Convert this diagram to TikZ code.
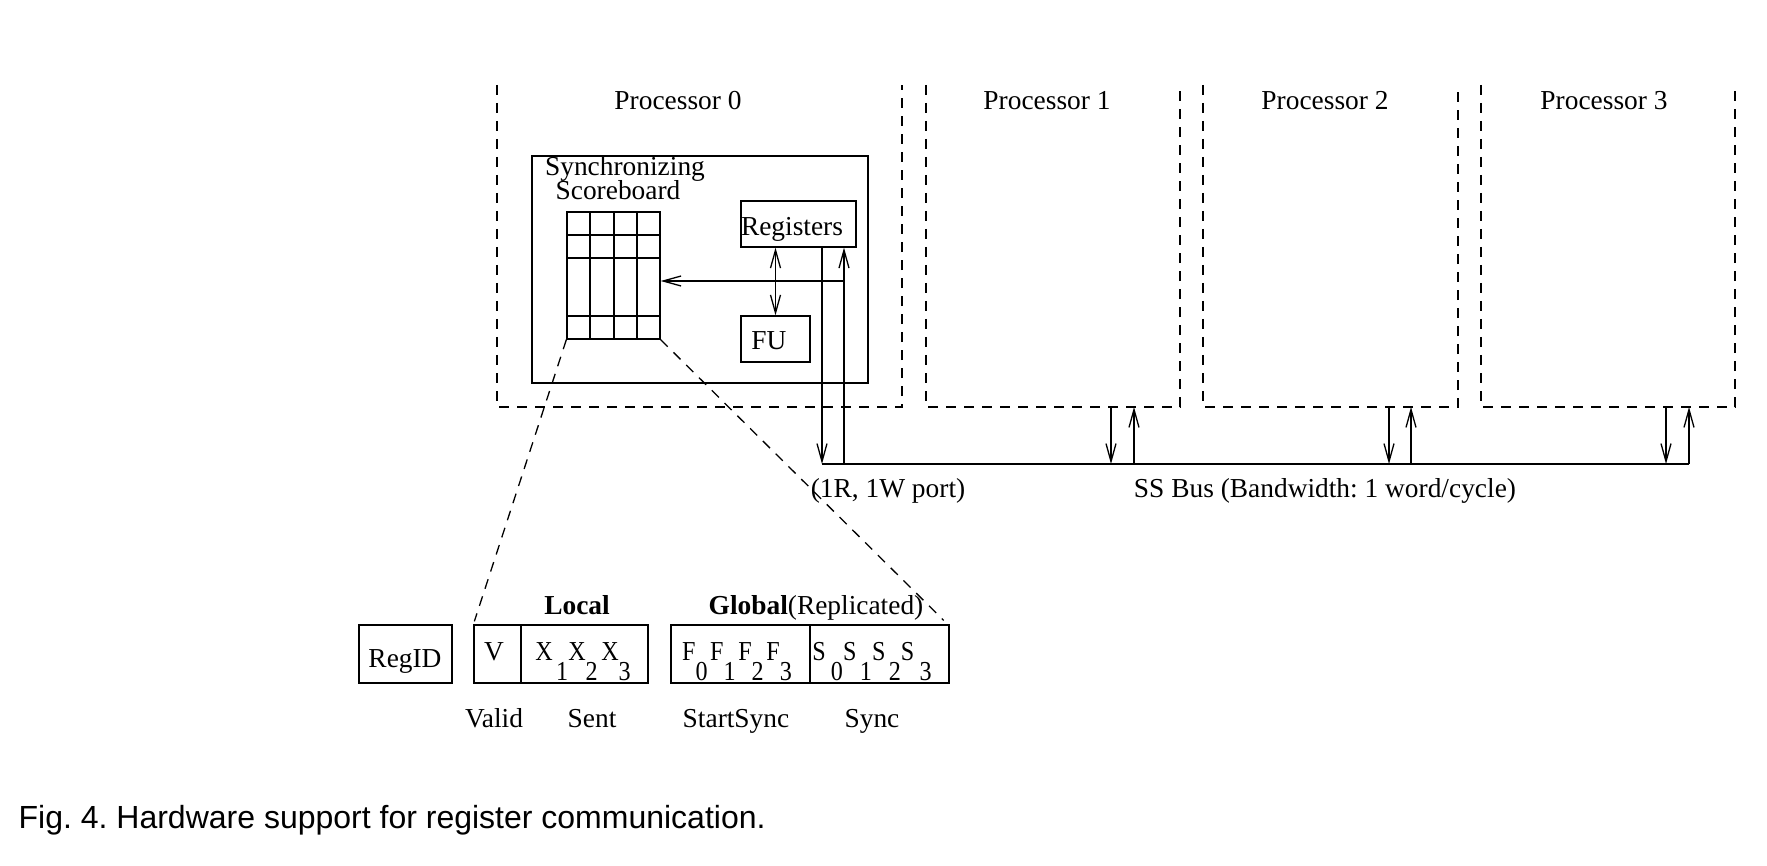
\documentclass[tikz,border=0pt]{standalone}
\usepackage{fontspec}
\setmainfont{Liberation Serif}
\newfontfamily\capfont{Liberation Sans}
\usetikzlibrary{arrows.meta}
\newcommand{\sbx}[1]{\raisebox{-10pt}{#1}}
\newcommand{\narrow}[1]{\scalebox{0.88}[1]{#1}}
\frenchspacing
\begin{document}
\begin{tikzpicture}[x=0.5pt,y=-0.5pt, line width=0.65pt,
  txt/.style={inner sep=0pt, font=\fontsize{13.7}{16}\selectfont, anchor=base},
  box/.style={draw, inner sep=0pt},
  dsh/.style={dash pattern=on 5pt off 4pt},
  arr/.style={-{Straight Barb[length=9pt,width=5pt]}},
  darr/.style={{Straight Barb[length=9pt,width=5pt]}-{Straight Barb[length=9pt,width=5pt]}}]
\useasboundingbox (0,0) rectangle (1767,866);

% processor frames
\draw[dsh] (497,85) -- (497,407) -- (902,407) -- (902,85);
\draw[dsh] (926,85) -- (926,407) -- (1180,407) -- (1180,85);
\draw[dsh] (1203,85) -- (1203,407) -- (1458,407) -- (1458,85);
\draw[dsh] (1481,85) -- (1481,407) -- (1735,407) -- (1735,85);
\node[txt] (pl0) at (678,110) {Processor 0};
\node[txt] (pl1) at (1047,110) {Processor 1};
\node[txt] (pl2) at (1325,110) {Processor 2};
\node[txt] (pl3) at (1604,110) {Processor 3};

% core box
\node[box, minimum width=168pt, minimum height=113.5pt] (core) at (700,269.5) {};
\node[txt] (syn1) at (625,176) {Synchronizing};
\node[txt] (syn2) at (618,200) {Scoreboard};

% scoreboard grid
\node[box, minimum width=46.5pt, minimum height=63.5pt] (sb) at (613.5,275.5) {};
\foreach \gx in {590,614,637} \draw (\gx,212) -- (\gx,339);
\foreach \gy in {235,258,316} \draw (567,\gy) -- (660,\gy);

% registers and FU
\node[box, minimum width=57.5pt, minimum height=23pt] (regs) at (798.5,224) {};
\node[txt] (regst) at (792,236) {Registers};
\node[box, minimum width=34.5pt, minimum height=23pt] (fu) at (775.5,339) {};
\node[txt] (fut) at (769,350) {FU};
\draw[darr] (fu.north |- regs.south) -- (fu.north);

% port lines and bus
\coordinate (p0d) at (822,464);
\coordinate (p0u) at (844,464);
\coordinate (tap) at (844,281);
\draw[arr] (regs.south -| p0d) -- (p0d);
\draw[arr] (p0u) -- (regs.south -| p0u);
\draw[arr] (tap) -- (sb.east |- tap);
\coordinate (busend) at (1689,464);
\draw (p0d) -- (busend);
\foreach \xd/\xu in {1111/1134, 1389/1411, 1666/1689} {
  \draw[arr] (\xd,407) -- (\xd,464);
  \draw[arr] (\xu,464) -- (\xu,407);
}
\node[txt] (portt) at (888,497) {(1R, 1W port)};
\node[txt] (bust) at (1325,497) {SS Bus (Bandwidth: 1 word/cycle)};

% detail row
\node[box, minimum width=46.5pt, minimum height=29pt] (regid) at (405.5,654) {};
\node[txt] at (405,667) {RegID};
\node[box, minimum width=23.5pt, minimum height=29pt] (vb) at (497.5,654) {};
\node[txt] at (494,660) {V};
\node[box, minimum width=63.5pt, minimum height=29pt] (xb) at (584.5,654) {};
\node[txt] at (583,660) {\narrow{X\kern2pt\sbx{1}X\sbx{2}\kern2pt X\sbx{3}}};
\node[box, minimum width=69.5pt, minimum height=29pt] (fb) at (740.5,654) {};
\node[txt] at (737,660) {\narrow{F\sbx{0}\kern1.5pt F\sbx{1}\kern1.5pt F\sbx{2}\kern1.5pt F\sbx{3}}};
\node[box, minimum width=69.5pt, minimum height=29pt] (sbox) at (879.5,654) {};
\node[txt] at (872,660) {\narrow{S\kern3pt\sbx{0}S\kern2pt\sbx{1}S\kern2pt\sbx{2}S\kern3pt\sbx{3}}};

\node[txt] (loc) at (577,614) {\textbf{Local}};
\node[txt] (glob) at (816,614) {\textbf{Global}(Replicated)};
\node[txt] at (494,727) {Valid};
\node[txt] at (592,727) {Sent};
\node[txt] at (736,727) {StartSync};
\node[txt] at (872,727) {Sync};

% zoom lines
\draw[dsh] (sb.south west) -- ([shift={(1,-3)}]vb.north west);
\draw[dsh] (sb.south east) -- ([shift={(-6,-4)}]sbox.north east);

% caption
\node[inner sep=0pt, anchor=base west, font=\capfont\fontsize{16}{19}\selectfont] (cap) at (18,828) {Fig. 4. Hardware support for register communication.};
\end{tikzpicture}
\end{document}
